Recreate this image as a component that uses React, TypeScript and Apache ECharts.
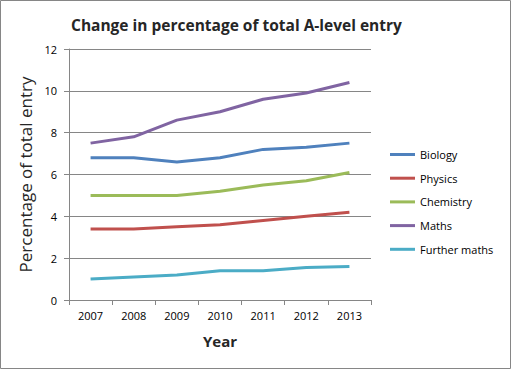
import React, { useEffect, useRef } from "react";
import * as echarts from "echarts";

const years = ["2007", "2008", "2009", "2010", "2011", "2012", "2013"];
const biology = [6.8, 6.8, 6.6, 6.8, 7.2, 7.3, 7.5];
const physics = [3.4, 3.4, 3.5, 3.6, 3.8, 4.0, 4.2];
const chemistry = [5.0, 5.0, 5.0, 5.2, 5.5, 5.7, 6.1];
const maths = [7.5, 7.8, 8.6, 9.0, 9.6, 9.9, 10.4];
const furtherMaths = [1.0, 1.1, 1.2, 1.4, 1.4, 1.55, 1.6];

const seriesNames = ["Biology", "Physics", "Chemistry", "Maths", "Further maths"];
const seriesData = [biology, physics, chemistry, maths, furtherMaths];
const colors = ["#4F81BD", "#C0504D", "#9BBB59", "#8064A2", "#4BACC6"];

export default function App() {
  const ref = useRef<HTMLDivElement>(null);
  useEffect(() => {
    document.body.style.margin = "0";
    const chart = echarts.init(ref.current!, null, { renderer: "svg" });
    const font = "Open Sans, sans-serif";
    chart.setOption({
      animation: false,
      backgroundColor: "#fff",
      title: {
        text: "Change in percentage of total A-level entry",
        left: 66,
        top: 12,
        textStyle: { fontFamily: font, fontSize: 15.5, fontWeight: "bold", color: "#262626" },
      },
      grid: { left: 69, right: 140, top: 49, bottom: 69 },
      legend: {
        orient: "vertical",
        left: 385,
        top: 144,
        icon: "rect",
        itemWidth: 25,
        itemHeight: 3,
        itemGap: 12.7,
        data: seriesNames,
        textStyle: { fontFamily: font, fontSize: 11, color: "#000" },
      },
      xAxis: {
        type: "category",
        data: years,
        boundaryGap: true,
        name: "Year",
        nameLocation: "middle",
        nameGap: 33,
        nameTextStyle: { fontFamily: font, fontSize: 15, fontWeight: "bold", color: "#262626" },
        axisLine: { lineStyle: { color: "#868686" } },
        axisTick: { show: true, alignWithLabel: false, length: 5, lineStyle: { color: "#868686" } },
        axisLabel: { fontFamily: font, fontSize: 11, color: "#000", margin: 10 },
      },
      yAxis: {
        type: "value",
        min: 0,
        max: 12,
        interval: 2,
        name: "Percentage of total entry",
        nameLocation: "middle",
        nameGap: 30,
        nameTextStyle: { fontFamily: font, fontSize: 17, color: "#262626" },
        axisLine: { show: true, lineStyle: { color: "#868686" } },
        axisTick: { show: true, length: 5, inside: false, lineStyle: { color: "#868686" } },
        splitLine: { lineStyle: { color: "#868686" } },
        axisLabel: { fontFamily: font, fontSize: 11, color: "#000", margin: 12 },
      },
      series: seriesNames.map((n, i) => ({
        name: n,
        type: "line",
        data: seriesData[i],
        showSymbol: false,
        symbol: "none",
        lineStyle: { width: 3, color: colors[i] },
        itemStyle: { color: colors[i] },
      })),
      graphic: [
        {
          type: "rect",
          shape: { x: 0.5, y: 0.5, width: 510, height: 368 },
          style: { fill: "none", stroke: "#868686", lineWidth: 1 },
        },
      ],
    });
    return () => chart.dispose();
  }, []);
  return <div ref={ref} style={{ width: 511, height: 369 }} />;
}
